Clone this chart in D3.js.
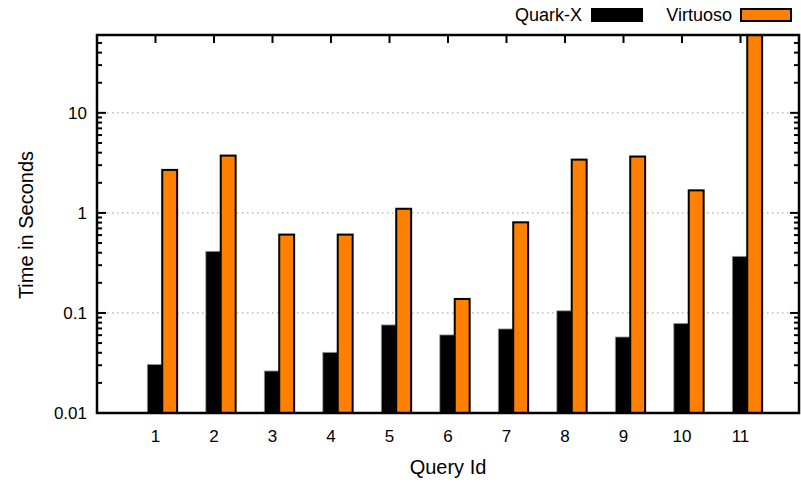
<!DOCTYPE html>
<html>
<head>
<meta charset="utf-8">
<script src="https://cdn.jsdelivr.net/npm/d3@7"></script>
<style>
    html, body { margin: 0; padding: 0; background: #fff; overflow: hidden; }
    svg { display: block; font-family: "Liberation Sans", Arial, sans-serif; }
</style>
</head>
<body>
<div id="chart"></div>
<script>
// Данные
const queries = [1, 2, 3, 4, 5, 6, 7, 8, 9, 10, 11];
const quarkX = [0.0306, 0.413, 0.0263, 0.0404, 0.0759, 0.0603, 0.0692, 0.105, 0.0575, 0.0787, 0.368];
const virtuoso = [2.69, 3.74, 0.607, 0.607, 1.10, 0.138, 0.805, 3.41, 3.66, 1.68, 80];
const yTicks = [0.01, 0.1, 1, 10];
const seriesNames = ['Quark-X', 'Virtuoso'];

const width = 801;
const height = 486;
const margin = { top: 35, right: 2, bottom: 73, left: 97 };
const innerWidth = width - margin.left - margin.right;
const innerHeight = height - margin.top - margin.bottom;

const svg = d3.select('#chart').append('svg')
    .attr('width', width)
    .attr('height', height);

const g = svg.append('g')
    .attr('transform', `translate(${margin.left},${margin.top})`);

// Scales
const xScale = d3.scaleLinear().domain([0, 12]).range([0, innerWidth]);
const yScale = d3.scaleLog().domain([0.01, 60]).range([innerHeight, 0]);

// Grid
g.append('g')
    .attr('class', 'grid')
    .selectAll('line')
    .data(yTicks.filter(d => d > 0.01))
    .join('line')
    .attr('x1', 0)
    .attr('x2', innerWidth)
    .attr('y1', d => yScale(d))
    .attr('y2', d => yScale(d))
    .attr('stroke', '#999')
    .attr('stroke-width', 1)
    .attr('stroke-dasharray', '1.5,3.5');

// Bars
g.append('clipPath').attr('id', 'clip')
    .append('rect').attr('width', innerWidth).attr('height', innerHeight);

const bars = g.append('g').attr('clip-path', 'url(#clip)');
const barW = 0.255;

bars.selectAll('.quark')
    .data(queries)
    .join('rect')
    .attr('class', 'quark')
    .attr('x', (d, i) => xScale(d - 0.14))
    .attr('width', xScale(barW) - xScale(0))
    .attr('y', (d, i) => yScale(quarkX[i]))
    .attr('height', (d, i) => innerHeight - yScale(quarkX[i]))
    .attr('fill', '#000')
    .attr('stroke', '#999')
    .attr('stroke-width', 0.8);

bars.selectAll('.virt')
    .data(queries)
    .join('rect')
    .attr('class', 'virt')
    .attr('x', (d, i) => xScale(d - 0.14 + barW))
    .attr('width', xScale(barW) - xScale(0))
    .attr('y', (d, i) => yScale(virtuoso[i]))
    .attr('height', (d, i) => innerHeight - yScale(virtuoso[i]))
    .attr('fill', '#ff8000')
    .attr('stroke', '#000')
    .attr('stroke-width', 2);

// Оси: рамка и тики
const minorTicks = [];
yTicks.forEach(t => {
    for (let k = 2; k <= 9; k++) {
        if (t * k <= 60) minorTicks.push(t * k);
    }
});

const axisG = g.append('g').attr('class', 'axes').attr('stroke', '#000');

// основные тики слева и справа
yTicks.forEach(t => {
    const y = yScale(t);
    axisG.append('line').attr('x1', 0).attr('x2', 9).attr('y1', y).attr('y2', y).attr('stroke-width', 2);
    axisG.append('line').attr('x1', innerWidth).attr('x2', innerWidth - 9).attr('y1', y).attr('y2', y).attr('stroke-width', 2);
});
minorTicks.forEach(t => {
    const y = yScale(t);
    axisG.append('line').attr('x1', 0).attr('x2', 5).attr('y1', y).attr('y2', y).attr('stroke-width', 2);
    axisG.append('line').attr('x1', innerWidth).attr('x2', innerWidth - 5).attr('y1', y).attr('y2', y).attr('stroke-width', 2);
});
// тики сверху
queries.forEach(q => {
    const x = xScale(q);
    axisG.append('line').attr('x1', x).attr('x2', x).attr('y1', 0).attr('y2', 8).attr('stroke-width', 2);
});

g.append('rect')
    .attr('width', innerWidth)
    .attr('height', innerHeight)
    .attr('fill', 'none')
    .attr('stroke', '#000')
    .attr('stroke-width', 2.5);

// Подписи тиков
g.append('g')
    .selectAll('text')
    .data(yTicks)
    .join('text')
    .attr('x', -10)
    .attr('y', d => yScale(d))
    .attr('dy', '0.36em')
    .attr('text-anchor', 'end')
    .style('font-size', '17px')
    .text(d => d3.format('~g')(d));

g.append('g')
    .selectAll('text')
    .data(queries)
    .join('text')
    .attr('x', d => xScale(d))
    .attr('y', innerHeight + 29)
    .attr('text-anchor', 'middle')
    .style('font-size', '17px')
    .text(d => d);

// Подписи осей
svg.append('text')
    .attr('x', 448)
    .attr('y', 474)
    .attr('text-anchor', 'middle')
    .style('font-size', '20px')
    .text('Query Id');

svg.append('text')
    .attr('transform', 'translate(33,225) rotate(-90)')
    .attr('text-anchor', 'middle')
    .style('font-size', '20px')
    .text('Time in Seconds');

// Легенда
const legend = [
    { name: seriesNames[0], textX: 582, boxX: 592, fill: '#000', stroke: '#000' },
    { name: seriesNames[1], textX: 732, boxX: 741, fill: '#ff8000', stroke: '#000' }
];
legend.forEach(item => {
    svg.append('text')
        .attr('x', item.textX)
        .attr('y', 21)
        .attr('text-anchor', 'end')
        .style('font-size', '18px')
        .text(item.name);
    svg.append('rect')
        .attr('x', item.boxX)
        .attr('y', 9)
        .attr('width', 50)
        .attr('height', 12)
        .attr('fill', item.fill)
        .attr('stroke', item.stroke)
        .attr('stroke-width', 2);
});
</script>
</body>
</html>
